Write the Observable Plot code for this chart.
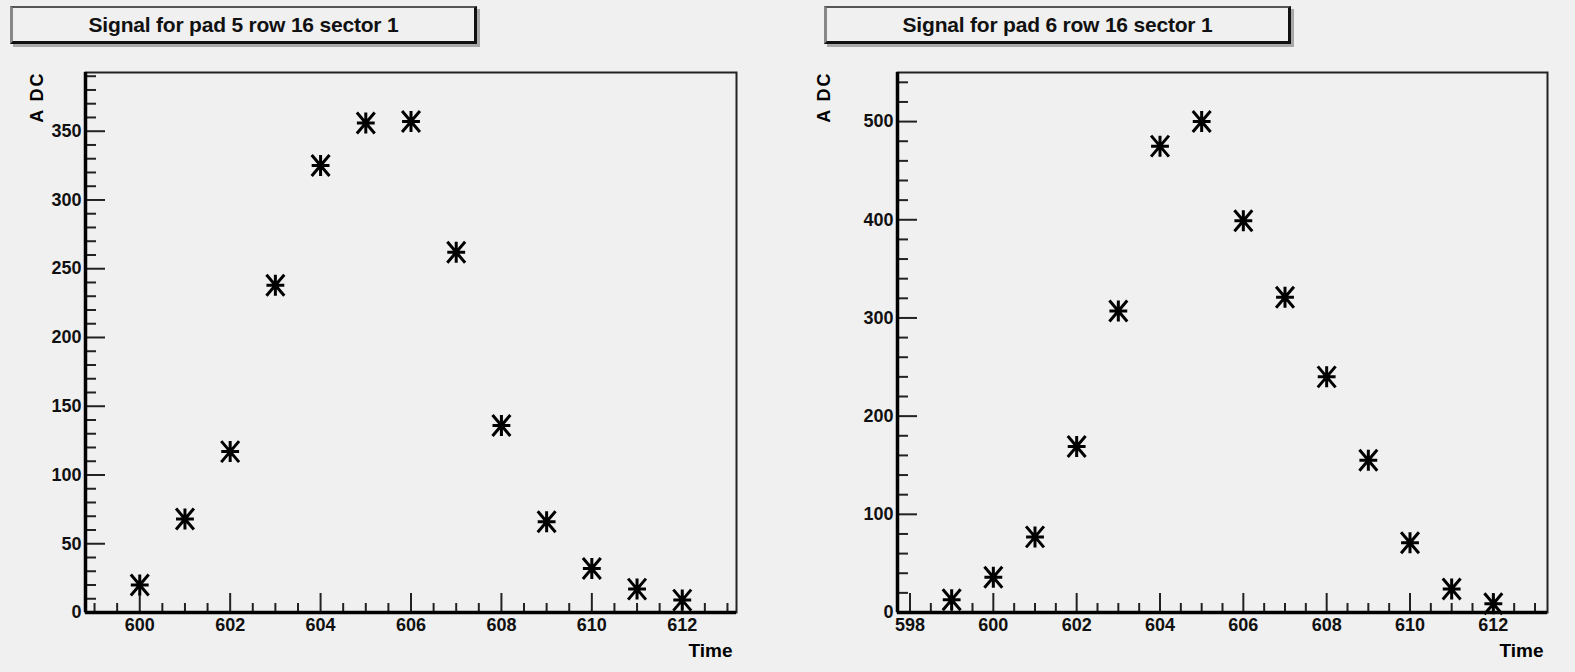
<!DOCTYPE html>
<html>
<head>
<meta charset="utf-8">
<script src="https://cdn.jsdelivr.net/npm/d3@7"></script>
<script src="https://cdn.jsdelivr.net/npm/@observablehq/plot@0.6"></script>
<style>
  html, body { margin: 0; padding: 0; background: #f0f0f0; width: 1575px; height: 672px; overflow: hidden; }
  .panel { position: absolute; top: 0; height: 672px; }
  .titlebox {
    position: absolute; top: 6px; height: 33px; width: 461px;
    background: #f0f0f0;
    border-style: solid; border-width: 2px 3px 3px 3px;
    border-color: #555 #111 #111 #888;
    box-shadow: 3px 3px 0 #a8a8a8;
    font-family: "Liberation Sans", Arial, sans-serif; font-size: 21px; font-weight: bold; color: #111;
    text-align: center; line-height: 33px; letter-spacing: -0.2px;
  }
</style>
</head>
<body>
<div id="left" class="panel" style="left:0;width:787px"></div>
<div id="right" class="panel" style="left:787px;width:788px"></div>
<script>
// ---- data ----
const leftTitle = "Signal for pad 5 row 16 sector 1";
const rightTitle = "Signal for pad 6 row 16 sector 1";
const yLabel = "A DC";
const xLabel = "Time";

const leftTime = [600, 601, 602, 603, 604, 605, 606, 607, 608, 609, 610, 611, 612];
const leftAdc  = [20, 68, 117, 238, 325, 356, 357, 262, 136, 66, 32, 17, 9];

const rightTime = [599, 600, 601, 602, 603, 604, 605, 606, 607, 608, 609, 610, 611, 612];
const rightAdc  = [13, 36, 77, 169, 307, 475, 500, 399, 321, 240, 155, 71, 24, 9];

const leftXDomain = [598.8, 613.2];
const leftYDomain = [0, 392.7];
const rightXDomain = [597.7, 613.3];
const rightYDomain = [0, 550];

const leftXMajor = [600, 602, 604, 606, 608, 610, 612];
const rightXMajor = [598, 600, 602, 604, 606, 608, 610, 612];
const leftYMajor = [0, 50, 100, 150, 200, 250, 300, 350];
const rightYMajor = [0, 100, 200, 300, 400, 500];

// ROOT-style asterisk marker (+ and x)
const rootStar = {
  draw(ctx, size) {
    const r = Math.sqrt(size / Math.PI);
    const w = r * 0.85;
    ctx.moveTo(-w, 0); ctx.lineTo(w, 0);
    ctx.moveTo(0, -r); ctx.lineTo(0, r);
    ctx.moveTo(-w, -r); ctx.lineTo(w, r);
    ctx.moveTo(w, -r); ctx.lineTo(-w, r);
  }
};

const FONT = "'Liberation Sans', Arial, sans-serif";

function panel({width, marginLeft, marginRight, xDomain, yDomain, xMajor, yMajor, yMinorStep, time, adc}) {
  const marginTop = 72, marginBottom = 60, height = 672;
  const fw = width - marginLeft - marginRight;
  const fh = height - marginTop - marginBottom;
  const xMinor = d3.range(Math.ceil(xDomain[0] * 2) / 2, xDomain[1] + 1e-9, 0.5).filter(v => !xMajor.includes(v));
  const yMinor = d3.range(0, yDomain[1] + 1e-9, yMinorStep).filter(v => !yMajor.includes(v));
  const pts = time.map((t, i) => ({t, v: adc[i]}));
  return Plot.plot({
    width, height, marginLeft, marginRight, marginTop, marginBottom,
    style: {background: "transparent", fontFamily: FONT, color: "#111"},
    x: {domain: xDomain},
    y: {domain: yDomain},
    marks: [
      Plot.frame({stroke: "#222", strokeWidth: 2}),
      // inward ticks
      Plot.tickX(xMinor, {x: d => d, insetTop: fh - 9, stroke: "#222", strokeWidth: 2}),
      Plot.tickX(xMajor, {x: d => d, insetTop: fh - 19, stroke: "#222", strokeWidth: 2}),
      Plot.tickY(yMinor, {y: d => d, insetRight: fw - 11, stroke: "#222", strokeWidth: 2}),
      Plot.tickY(yMajor, {y: d => d, insetRight: fw - 20, stroke: "#222", strokeWidth: 2}),
      // thick axis lines
      Plot.ruleY([yDomain[0]], {stroke: "#000", strokeWidth: 3.5}),
      Plot.ruleX([xDomain[0]], {stroke: "#000", strokeWidth: 3.5}),
      Plot.axisX(xMajor, {tickSize: 0, tickPadding: 6, label: null, fontSize: 18, fontWeight: "bold", tickFormat: d => String(d)}),
      Plot.axisY(yMajor, {tickSize: 0, tickPadding: 4, label: null, fontSize: 18, fontWeight: "bold", tickFormat: d => String(d)}),
      Plot.text([xLabel], {frameAnchor: "bottom-right", dx: -4, dy: 44, textAnchor: "end", fontSize: 19, fontWeight: "bold", fill: "#000"}),
      Plot.text([yLabel], {frameAnchor: "top-left", dx: 30 - marginLeft, dy: -1, rotate: -90, textAnchor: "end", fontSize: 18, fontWeight: "bold", fill: "#000", style: "letter-spacing:2px"}),
      Plot.dot(pts, {x: "t", y: "v", r: 10.5, symbol: rootStar, fill: "none", stroke: "#000", strokeWidth: 3})
    ]
  });
}

const left = document.getElementById("left");
left.appendChild(panel({width: 787, marginLeft: 85, marginRight: 51,
  xDomain: leftXDomain, yDomain: leftYDomain, xMajor: leftXMajor, yMajor: leftYMajor, yMinorStep: 10,
  time: leftTime, adc: leftAdc}));
const lt = document.createElement("div");
lt.className = "titlebox"; lt.style.left = "10px"; lt.textContent = leftTitle;
left.appendChild(lt);

const right = document.getElementById("right");
right.appendChild(panel({width: 788, marginLeft: 110, marginRight: 28,
  xDomain: rightXDomain, yDomain: rightYDomain, xMajor: rightXMajor, yMajor: rightYMajor, yMinorStep: 20,
  time: rightTime, adc: rightAdc}));
const rt = document.createElement("div");
rt.className = "titlebox"; rt.style.left = "37px"; rt.textContent = rightTitle;
right.appendChild(rt);

// letter spacing on the rotated y label
document.querySelectorAll("svg text").forEach(t => { if (t.textContent === yLabel) t.style.letterSpacing = "2px"; });
</script>
</body>
</html>
